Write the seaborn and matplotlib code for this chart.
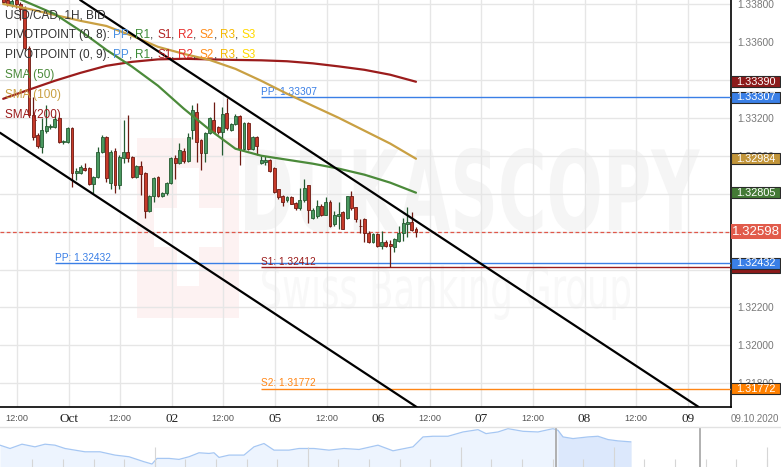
import numpy as np
import pandas as pd
import matplotlib
matplotlib.use("Agg")
import matplotlib.pyplot as plt
import matplotlib.transforms as mtransforms
from matplotlib.patches import Rectangle, PathPatch
from matplotlib.textpath import TextPath
from matplotlib.font_manager import FontProperties
import seaborn as sns

# USD/CAD 1H candles
open_ = [1.33832, 1.33821, 1.33795, 1.33821, 1.33800, 1.33774, 1.33569, 1.33216, 1.33111, 1.33048,
         1.33132, 1.33153, 1.33153, 1.33200, 1.33074, 1.33074, 1.33148, 1.32911, 1.32911, 1.32937,
         1.32937, 1.32853, 1.32890, 1.33021, 1.33100, 1.32858, 1.33027, 1.32848, 1.32990, 1.33021,
         1.32995, 1.32890, 1.32948, 1.32911, 1.32706, 1.32785, 1.32890, 1.32785, 1.32801, 1.32858,
         1.32990, 1.32964, 1.33027, 1.32974, 1.33137, 1.33232, 1.33085, 1.33016, 1.33121, 1.33190,
         1.33153, 1.33127, 1.33227, 1.33137, 1.33169, 1.33211, 1.33037, 1.33174, 1.33037, 1.33100,
         1.32964, 1.32969, 1.32979, 1.32937, 1.32822, 1.32790, 1.32764, 1.32780, 1.32753, 1.32722,
         1.32764, 1.32843, 1.32669, 1.32680, 1.32737, 1.32690, 1.32758, 1.32638, 1.32680, 1.32701,
         1.32669, 1.32785, 1.32727, 1.32632, 1.32664, 1.32595, 1.32543, 1.32585, 1.32522, 1.32543,
         1.32532, 1.32517, 1.32548, 1.32595, 1.32638, 1.32653, 1.32616]
high = [1.33853, 1.33842, 1.33832, 1.33837, 1.33810, 1.33789, 1.33579, 1.33311, 1.33121, 1.33200,
        1.33269, 1.33169, 1.33216, 1.33206, 1.33085, 1.33153, 1.33153, 1.32937, 1.32953, 1.32964,
        1.32943, 1.32895, 1.33048, 1.33111, 1.33106, 1.33032, 1.33043, 1.33006, 1.33190, 1.33216,
        1.33000, 1.32953, 1.32974, 1.32916, 1.32795, 1.32890, 1.32895, 1.32811, 1.32864, 1.32995,
        1.33006, 1.33069, 1.33043, 1.33121, 1.33269, 1.33279, 1.33090, 1.33127, 1.33206, 1.33284,
        1.33158, 1.33258, 1.33306, 1.33174, 1.33221, 1.33216, 1.33179, 1.33179, 1.33106, 1.33106,
        1.33006, 1.33000, 1.32985, 1.32943, 1.32827, 1.32795, 1.32785, 1.32785, 1.32758, 1.32832,
        1.32879, 1.32848, 1.32722, 1.32769, 1.32743, 1.32780, 1.32764, 1.32706, 1.32758, 1.32706,
        1.32790, 1.32816, 1.32732, 1.32664, 1.32669, 1.32601, 1.32590, 1.32590, 1.32601, 1.32553,
        1.32553, 1.32564, 1.32627, 1.32674, 1.32727, 1.32701, 1.32622]
low = [1.33805, 1.33789, 1.33784, 1.33779, 1.33716, 1.33558, 1.33206, 1.33085, 1.33043, 1.33016,
       1.33121, 1.33142, 1.33148, 1.33069, 1.33064, 1.33069, 1.32837, 1.32874, 1.32906, 1.32922,
       1.32843, 1.32806, 1.32885, 1.33016, 1.32864, 1.32827, 1.32806, 1.32827, 1.32964, 1.32969,
       1.32885, 1.32885, 1.32795, 1.32669, 1.32701, 1.32758, 1.32780, 1.32780, 1.32795, 1.32853,
       1.32879, 1.32958, 1.32964, 1.32969, 1.33090, 1.32969, 1.32927, 1.32969, 1.33116, 1.33121,
       1.33116, 1.33006, 1.33137, 1.33132, 1.33163, 1.32953, 1.33032, 1.33032, 1.33032, 1.33006,
       1.32958, 1.32953, 1.32916, 1.32806, 1.32774, 1.32737, 1.32758, 1.32743, 1.32716, 1.32716,
       1.32758, 1.32643, 1.32664, 1.32674, 1.32680, 1.32685, 1.32622, 1.32627, 1.32616, 1.32611,
       1.32664, 1.32716, 1.32648, 1.32595, 1.32543, 1.32538, 1.32538, 1.32517, 1.32506, 1.32517,
       1.32412, 1.32490, 1.32543, 1.32548, 1.32574, 1.32601, 1.32569]
close = [1.33810, 1.33800, 1.33816, 1.33800, 1.33774, 1.33569, 1.33216, 1.33100, 1.33053, 1.33137,
         1.33158, 1.33158, 1.33195, 1.33074, 1.33079, 1.33148, 1.32911, 1.32922, 1.32943, 1.32927,
         1.32853, 1.32890, 1.33021, 1.33100, 1.32885, 1.33021, 1.32848, 1.32995, 1.33021, 1.32990,
         1.32890, 1.32948, 1.32906, 1.32706, 1.32790, 1.32885, 1.32785, 1.32806, 1.32858, 1.32990,
         1.32964, 1.33032, 1.32974, 1.33100, 1.33242, 1.33074, 1.33016, 1.33121, 1.33200, 1.33127,
         1.33127, 1.33221, 1.33148, 1.33169, 1.33211, 1.33037, 1.33174, 1.33037, 1.33100, 1.33053,
         1.32979, 1.32979, 1.32922, 1.32811, 1.32780, 1.32758, 1.32780, 1.32748, 1.32722, 1.32764,
         1.32832, 1.32716, 1.32716, 1.32737, 1.32685, 1.32758, 1.32632, 1.32685, 1.32695, 1.32616,
         1.32785, 1.32722, 1.32664, 1.32627, 1.32595, 1.32543, 1.32585, 1.32522, 1.32543, 1.32522,
         1.32522, 1.32559, 1.32595, 1.32643, 1.32653, 1.32606, 1.32598]

# moving averages, sampled every 6 candles
sma_idx = [0, 6, 12, 18, 24, 30, 36, 42, 48, 54, 60, 66, 72, 78, 84, 90, 96]
sma50 = [1.33863, 1.33805, 1.33747, 1.33658, 1.33558, 1.33469, 1.33369, 1.33248, 1.33137,
         1.33037, 1.33000, 1.32979, 1.32958, 1.32932, 1.32900, 1.32858, 1.32805]
sma100 = [1.33800, 1.33774, 1.33742, 1.33711, 1.33684, 1.33632, 1.33574, 1.33537, 1.33505,
          1.33458, 1.33395, 1.33327, 1.33263, 1.33200, 1.33132, 1.33064, 1.32984]
sma200 = [1.33300, 1.33348, 1.33395, 1.33437, 1.33474, 1.33495, 1.33508, 1.33511, 1.33508,
          1.33505, 1.33503, 1.33498, 1.33487, 1.33471, 1.33453, 1.33427, 1.33390]

# channel trend lines (two anchors each)
upper_x = [17.9, 161.4]
upper_y = [1.33821, 1.31680]
lower_x = [-0.74, 95.8]
lower_y = [1.33121, 1.31680]

# pivot levels
level_vals = [1.33307, 1.32432, 1.32412, 1.31772]
level_names = ["PP", "PP", "S1", "S2"]
level_start = [59.95, 12.05, 59.95, 59.95]
level_colors = ["#3a7fe6", "#3a7fe6", "#9b1c1c", "#ff8616"]

last_price = 1.32598

# right-side value tags (drawn in this order)
tag_vals = [1.33390, 1.33307, 1.32984, 1.32805, 1.32412, 1.32432, 1.31772]
tag_colors = ["#8c1a1a", "#3a7fe6", "#c2953a", "#447a36", "#8c1a1a", "#3a7fe6", "#ff8000"]

tick_labels = ["12:00", "Oct", "12:00", "02", "12:00", "05", "12:00", "06",
               "12:00", "07", "12:00", "08", "12:00", "09"]

# navigator overview
nav_t = [0, 10, 22, 35, 45, 55, 65, 75, 85, 100, 115, 129, 144, 152, 157, 169, 179, 189, 199,
         209, 214, 219, 229, 244, 254, 264, 274, 289, 299, 314, 329, 344, 359, 378, 393, 413,
         423, 433, 448, 463, 478, 486, 498, 508, 523, 538, 553, 558, 563, 573, 588, 598, 608,
         618, 631]
nav_v = [66, 56, 69, 61, 69, 66, 56, 51, 46, 46, 36, 31, 16, 9, 26, 26, 23, 31, 43, 41, 43,
         29, 36, 36, 61, 71, 51, 51, 56, 56, 51, 56, 53, 66, 49, 61, 91, 93, 93, 106, 113, 101,
         106, 116, 108, 106, 116, 111, 91, 86, 91, 93, 83, 79, 76]

sns.set_theme(style="white")
plt.rcParams["font.family"] = ["Liberation Sans", "DejaVu Sans"]

W, H = 781, 467
fig = plt.figure(figsize=(W / 100, H / 100), dpi=100)
ax = fig.add_axes([0, 60 / H, 731 / W, 407 / H])

df = pd.DataFrame({"open": open_, "high": high, "low": low, "close": close})
df["i"] = np.arange(len(df))
up = df[df.close >= df.open]
dn = df[df.close < df.open]

ax.vlines(up.i, up.low, up.high, color="#245a30", lw=0.9, zorder=3)
ax.vlines(dn.i, dn.low, dn.high, color="#6e1a12", lw=0.9, zorder=3)
ax.bar(up.i, (up.close - up.open).clip(lower=0.00002), bottom=up.open, width=0.66,
       color="#4a9860", edgecolor="#245a30", lw=0.6, zorder=4)
ax.bar(dn.i, dn.close - dn.open, bottom=dn.open, width=0.66,
       color="#c63a2a", edgecolor="#6e1a12", lw=0.6, zorder=4)

sns.lineplot(x=sma_idx, y=sma200, ax=ax, color="#9b1c1c", lw=1.6, zorder=5)
sns.lineplot(x=sma_idx, y=sma100, ax=ax, color="#c9a043", lw=1.6, zorder=5)
sns.lineplot(x=sma_idx, y=sma50, ax=ax, color="#4b8a3a", lw=1.6, zorder=5)

ax.axline((upper_x[0], upper_y[0]), (upper_x[1], upper_y[1]), color="black", lw=1.6, zorder=5)
ax.axline((lower_x[0], lower_y[0]), (lower_x[1], lower_y[1]), color="black", lw=1.6, zorder=5)

xmin, xmax = -0.74, 169.26
ax.set_xlim(xmin, xmax)
ax.set_ylim(1.31675, 1.33821)

for v, name, s, c in zip(level_vals, level_names, level_start, level_colors):
    ax.hlines(v, s, xmax, color=c, lw=1.0, zorder=2.6)
    ax.annotate(f"{name}: {v:.5f}", (s, v), xytext=(0, 0.3), textcoords="offset points",
                ha="left", va="bottom", color=c, fontsize=7.3, zorder=2.7)

ax.axhline(last_price, color="#e0574a", lw=0.9, ls=(0, (3, 2)), zorder=2.6)

# watermark logo
for (x0, y0, x1, y1), col in [((137, 138, 239, 318), "#fdf2f2"),
                              ((176.7, 168, 199, 286), "white"),
                              ((154, 208, 222, 247), "white")]:
    ax.add_patch(Rectangle((x0 / 731, 1 - y1 / 407), (x1 - x0) / 731, (y1 - y0) / 407,
                           transform=ax.transAxes, color=col, lw=0, zorder=0.2))


def stretched_text(s, box, weight, color):
    x0, y0, x1, y1 = box
    tp = TextPath((0, 0), s, size=100, prop=FontProperties(family="DejaVu Sans", weight=weight))
    bb = tp.get_extents()
    tr = (mtransforms.Affine2D().translate(-bb.x0, -bb.y0)
          .scale((x1 - x0) / bb.width, (y1 - y0) / bb.height)
          .translate(x0, H - y1))
    ax.add_patch(PathPatch(tp, transform=tr, color=color, lw=0, zorder=0.25))


stretched_text("DUKASCOPY", (245, 148, 700, 232), "bold", "#f5f5f5")
stretched_text("Swiss Banking Group", (262, 265, 630, 320), "normal", "#f8f8f8")

# grid / axes styling
ax.set_axisbelow(True)
ax.grid(True, color="#e6e6e6", lw=1.0)
yt = np.arange(1.318, 1.3381, 0.002)
ax.set_yticks(yt)
# labels fully covered by a value tag are left blank
covered = [min(abs(t - v) for v in tag_vals + [last_price]) < 0.00013 for t in yt]
ax.set_yticklabels(["" if c else f"{t:.5f}" for t, c in zip(yt, covered)])
ax.yaxis.tick_right()
ax.tick_params(axis="y", length=0, pad=4.3, labelsize=7.3, labelcolor="#777777")

ax.set_xticks(3.2 + 12 * np.arange(len(tick_labels)))
ax.set_xticklabels(tick_labels)
ax.tick_params(axis="x", length=0, pad=8.6)
for lab in ax.get_xticklabels():
    lab.set_va("center")
    if lab.get_text() == "12:00":
        lab.set_fontsize(6.6)
        lab.set_color("#555555")
    else:
        lab.set_fontsize(9.5)
        lab.set_color("#222222")
        lab.set_family(["Liberation Serif", "DejaVu Serif"])

for side in ["left", "top"]:
    ax.spines[side].set_visible(False)
for side in ["right", "bottom"]:
    ax.spines[side].set_visible(True)
    ax.spines[side].set_color("black")
    ax.spines[side].set_linewidth(1.2)
ax.set_xlabel("")
ax.set_ylabel("")

# right value tags, each tag above the previous one
blend = mtransforms.blended_transform_factory(ax.transAxes, ax.transData)
px = (1.33821 - 1.31675) / 407
for k, (v, c) in enumerate(zip(tag_vals, tag_colors)):
    h = 11 * px
    z = 6 + 2 * k
    ax.add_patch(Rectangle((1.0, v - h / 2), 49 / 731, h, transform=blend, facecolor=c,
                           edgecolor="#2a2a2a", lw=0.8, clip_on=False, zorder=z))
    ax.text(1.0 + 24.5 / 731, v, f"{v:.5f}", transform=blend, ha="center", va="center",
            color="white", fontsize=7.8, clip_on=False, zorder=z + 1)
h = 15 * px
ax.add_patch(Rectangle((1.0, last_price - h / 2), 50 / 731, h, transform=blend,
                       facecolor="#e15b4b", lw=0, clip_on=False, zorder=30))
ax.text(1.0 + 25 / 731, last_price, f"{last_price:.5f}", transform=blend, ha="center",
        va="center", color="white", fontsize=9.5, clip_on=False, zorder=31)

# legend block (top-left)
leg_size = 8.5


def legend_line(parts, y):
    t = ax.text(5 / 731, 1 - y / 407, parts[0][0], color=parts[0][1], transform=ax.transAxes,
                fontsize=leg_size, ha="left", va="center", zorder=10)
    for s, c in parts[1:]:
        t = ax.annotate(s, xy=(1, 0), xycoords=t, ha="left", va="bottom", color=c,
                        fontsize=leg_size, zorder=10)


piv_cols = [("PP", "#4a90e2"), ("R1", "#3d8b37"), ("S1", "#b22222"), ("R2", "#e8312f"),
            ("S2", "#ff8c1a"), ("R3", "#f5b800"), ("S3", "#ffd800")]
legend_line([("USD/CAD, 1H, BID", "#333333")], 15)
for y, lbl in [(35, "PIVOTPOINT (0, 8): "), (55, "PIVOTPOINT (0, 9): ")]:
    parts = [(lbl, "#333333")]
    for j, (n, c) in enumerate(piv_cols):
        parts.append((n, c))
        if j < len(piv_cols) - 1:
            parts.append((", ", "#333333"))
    legend_line(parts, y)
legend_line([("SMA (50)", "#4b8a3a")], 75)
legend_line([("SMA (100)", "#c9a043")], 95)
legend_line([("SMA (200)", "#9b1c1c")], 115)

fig.text(755 / W, 1 - 419 / H, "09.10.2020", ha="center", va="center", fontsize=7,
         color="#777777")

# navigator
nav = fig.add_axes([0, 0, 1, 40 / H])
nav_t_arr = np.array(nav_t)
nav_v_arr = np.array(nav_v)
nav.fill_between(nav_t_arr, 0, nav_v_arr, color="#edf4fe", lw=0)
sel = nav_t_arr >= 556
nav.fill_between(nav_t_arr[sel], 0, nav_v_arr[sel], color="#dce8fc", lw=0)
sns.lineplot(x=nav_t, y=nav_v, ax=nav, color="#a6c7f3", lw=0.9)
nav.vlines(32.4 + 30.6 * np.arange(25), 0, 24, color="#d6d6d6", lw=0.8)
nav.vlines(154.8 + 153 * np.arange(5), 0, 60, color="#d6d6d6", lw=0.8)
nav.vlines([556, 700], 0, 121, color="#b0b0b0", lw=1.4)
nav.set_xlim(0, W)
nav.set_ylim(0, 121)
nav.set_xticks([])
nav.set_yticks([])
nav.set_xlabel("")
nav.set_ylabel("")
for side in ["left", "right", "bottom"]:
    nav.spines[side].set_visible(False)
nav.spines["top"].set_visible(True)
nav.spines["top"].set_color("#e2e2e2")
nav.spines["top"].set_linewidth(1.0)
nav.patch.set_alpha(0)

fig.savefig("out.png", dpi=100)
